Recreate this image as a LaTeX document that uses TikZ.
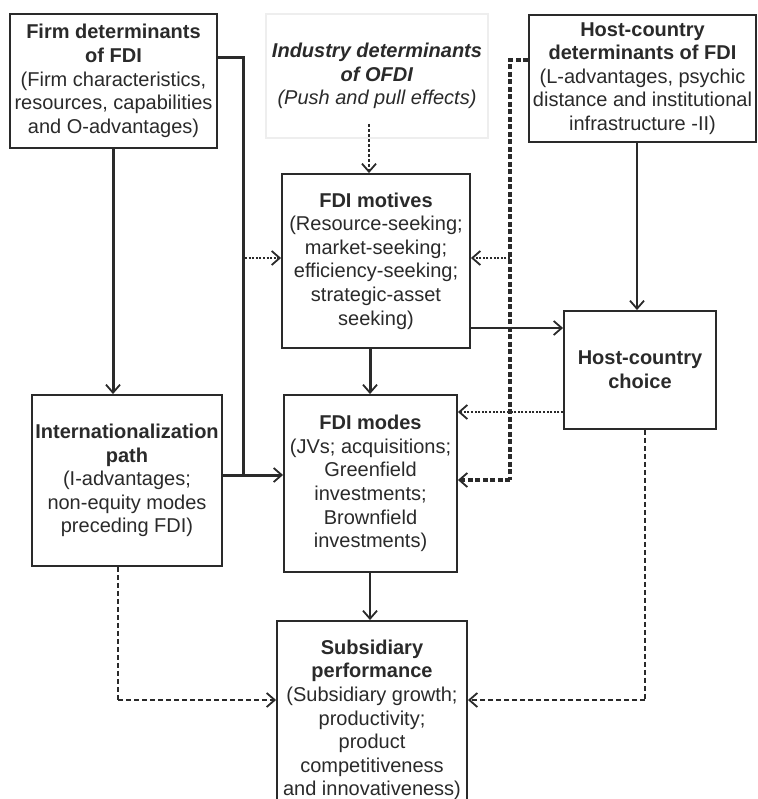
\documentclass[tikz,border=0pt]{standalone}
\usepackage{fontspec}
\setmainfont{Liberation Sans}
\usetikzlibrary{arrows.meta}
\definecolor{ink}{HTML}{2A2A2A}
\definecolor{faint}{HTML}{EEEEEE}
\tikzset{
  box/.style={draw=ink, line width=1.9pt, rectangle, inner sep=1pt, align=center,
    text=ink, font=\fontsize{20}{23.6}\selectfont},
  fbox/.style={box, draw=faint, line width=1.2pt},
  tip/.style={-{Straight Barb[length=8pt,width=14pt,line width=1.8pt]}},
  solidln/.style={draw=ink, line width=2pt},
  thickln/.style={draw=ink, line width=3pt},
  dotln/.style={draw=ink, line width=2pt, dash pattern=on 2pt off 1.6pt},
  dashln/.style={draw=ink, line width=2pt, dash pattern=on 5pt off 3pt},
  hdashln/.style={draw=ink, line width=3.6pt, dash pattern=on 5pt off 2.5pt},
}
\begin{document}
\begin{tikzpicture}[x=1pt,y=-1pt]
\clip (0,0) rectangle (757,799);
\fill[white] (0,0) rectangle (757,799);

\node[box, minimum width=207pt, minimum height=134pt] (firm) at (113.5,81)
  {\textbf{Firm determinants}\\\textbf{of FDI}\\(Firm characteristics,\\resources, capabilities\\and O-advantages)};
\node[fbox, minimum width=222pt, minimum height=124pt] (ind) at (377,76)
  {\textbf{\textit{Industry determinants}}\\\textbf{\textit{of OFDI}}\\\textit{(Push and pull effects)}};
\node[box, minimum width=227pt, minimum height=127pt] (hostdet) at (642.5,78.5)
  {\textbf{Host-country}\\\textbf{determinants of FDI}\\(L-advantages, psychic\\distance and institutional\\infrastructure -II)};
\node[box, minimum width=188pt, minimum height=174pt] (mot) at (376,261)
  {\textbf{FDI motives}\\(Resource-seeking;\\market-seeking;\\efficiency-seeking;\\strategic-asset\\seeking)};
\node[box, minimum width=152pt, minimum height=118pt] (choice) at (640,370)
  {\textbf{Host-country}\\\textbf{choice}};
\node[box, minimum width=173pt, minimum height=177pt] (modes) at (370.5,483.5)
  {\textbf{FDI modes}\\(JVs; acquisitions;\\Greenfield\\investments;\\Brownfield\\investments)};
\node[box, minimum width=190pt, minimum height=171pt] (intp) at (127,480.5)
  {\textbf{Internationalization}\\\textbf{path}\\(I-advantages;\\non-equity modes\\preceding FDI)};
\node[box, minimum width=190pt, minimum height=198pt] (sub) at (372,720)
  {\textbf{Subsidiary}\\\textbf{performance}\\(Subsidiary growth;\\productivity;\\product\\competitiveness\\and innovativeness)};

% helper coordinates
\coordinate (fA) at (243,58);
\coordinate (fB) at (243,475);
\coordinate (fM) at (245,258);
\coordinate (hA) at (510,60);
\coordinate (hB) at (510,480);
\coordinate (hM) at (510,258);
\coordinate (iA) at (369,124);
\coordinate (mC) at (470,328);
\coordinate (cM) at (564,412);
\coordinate (lA) at (118,700);
\coordinate (rA) at (645,700);

% firm -> internationalization path
\draw[thickln, tip] (firm.south -| 113,0) -- (intp.north -| 113,0);
% firm -> modes (via junction)
\draw[thickln] (firm.east |- fA) -- (fA) -- (fB);
\draw[thickln, tip] (intp.east |- fB) -- (modes.west |- fB);
% firm line -> motives (dotted)
\draw[dotln, tip] (fM) -- (mot.west |- fM);
% industry -> motives
\draw[dashln, line width=1.7pt, dash pattern=on 3pt off 2pt, tip] (iA) -- (mot.north -| iA);
% host determinants -> host choice
\draw[solidln, tip] (hostdet.south -| 637,0) -- (choice.north -| 637,0);
% host determinants -> modes (thick dashed)
\draw[hdashln] (hostdet.west |- hA) -- (hA) -- (hB);
\draw[hdashln, tip] (hB) -- (modes.east |- hB);
% host det line -> motives (dotted)
\draw[dotln, tip] (hM) -- (mot.east |- hM);
% motives -> host choice
\draw[solidln, tip] (mot.east |- mC) -- (choice.west |- mC);
% motives -> modes
\draw[thickln, tip] (mot.south -| 370,0) -- (modes.north -| 370,0);
% host choice -> modes (dotted)
\draw[dotln, tip] (choice.west |- cM) -- (modes.east |- cM);
% modes -> subsidiary
\draw[solidln, tip] (modes.south -| 370,0) -- (sub.north -| 370,0);
% internationalization -> subsidiary (dashed)
\draw[dashln] (intp.south -| lA) -- (lA);
\draw[dashln, tip] (lA) -- (sub.west |- lA);
% host choice -> subsidiary (dashed)
\draw[dashln, line width=2.6pt] (choice.south -| rA) -- (rA);
\draw[dashln, line width=2.6pt, tip] (rA) -- (sub.east |- rA);
\end{tikzpicture}
\end{document}
